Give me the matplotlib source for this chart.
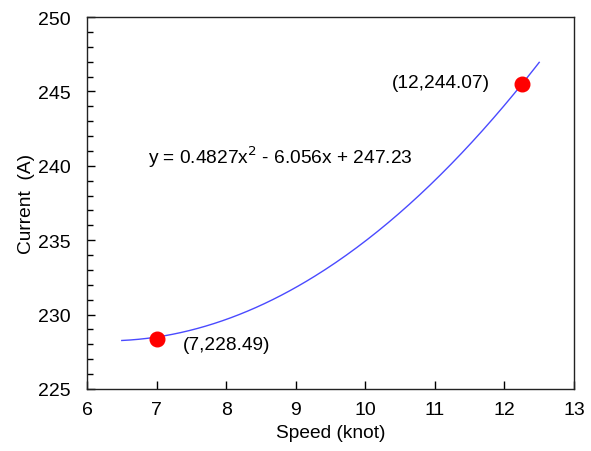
import numpy as np
import matplotlib
matplotlib.use("Agg")
import matplotlib.pyplot as plt
from matplotlib.ticker import MultipleLocator

plt.rcParams['font.family'] = ['Liberation Sans', 'DejaVu Sans']

# Trendline coefficients (from equation on chart) and range
coef = [0.4827, -6.056, 247.23]
x_range = [6.5, 12.5]
# Marked points
pt_x = [7.0, 12.25]
pt_y = [228.36, 245.48]
labels = ["(7,228.49)", "(12,244.07)"]
equation = "y = 0.4827x$^2$ - 6.056x + 247.23"

fig = plt.figure(figsize=(5.91, 4.52), dpi=100)
ax = fig.add_axes([87/591, 1-390/452, (574-87)/591, (390-18)/452])

xs = np.linspace(x_range[0], x_range[1], 200)
ax.plot(xs, np.polyval(coef, xs), color='#4a4aff', lw=1.0, zorder=2)
ax.plot(pt_x, pt_y, 'o', color='#ff0000', ms=10.5, zorder=3)

fs = 13.8
ax.text(7.38, 228.0, labels[0], fontsize=fs, ha='left', va='center')
ax.text(11.79, 245.63, labels[1], fontsize=fs, ha='right', va='center')
ax.text(6.87, 240.66, equation, fontsize=fs, ha='left', va='center')

ax.set_xlim(6, 13)
ax.set_ylim(225, 250)
ax.xaxis.set_major_locator(MultipleLocator(1))
ax.yaxis.set_major_locator(MultipleLocator(5))
ax.yaxis.set_minor_locator(MultipleLocator(1))
ax.tick_params(axis='both', which='major', direction='in', length=6, width=1, labelsize=14)
ax.tick_params(axis='y', which='major', pad=12)
ax.tick_params(axis='x', which='major', pad=9)
ax.tick_params(axis='y', which='minor', direction='in', length=4, width=1)
for s in ax.spines.values():
    s.set_linewidth(1.0)
    s.set_color('#222222')

ax.set_xlabel("Speed (knot)", fontsize=fs, labelpad=4)
ax.set_ylabel("Current  (A)", fontsize=fs, labelpad=2)

fig.savefig("out.png", dpi=100)
